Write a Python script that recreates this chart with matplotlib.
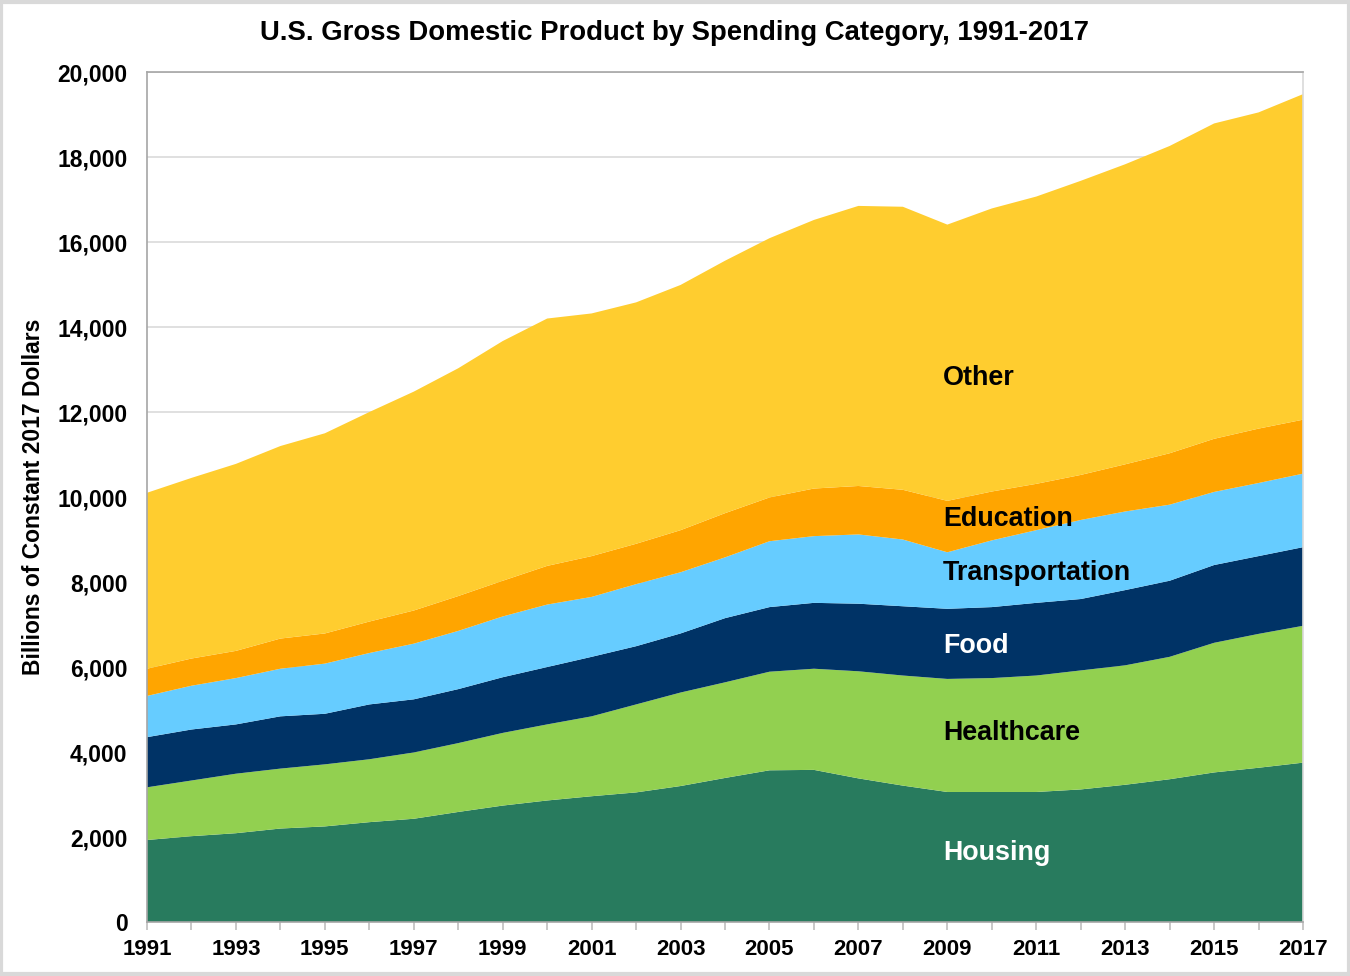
import matplotlib
matplotlib.use("Agg")
import matplotlib.pyplot as plt
import matplotlib.patches as patches
from matplotlib.ticker import FuncFormatter, MultipleLocator

plt.rcParams['font.family'] = ['Liberation Sans', 'DejaVu Sans']
plt.rcParams['font.weight'] = 'bold'

# Data (billions of constant 2017 dollars)
years = list(range(1991, 2018))
housing = [1930, 2020, 2090, 2200, 2250, 2350, 2430, 2590, 2740, 2860, 2960, 3050, 3200, 3390,
           3570, 3580, 3380, 3210, 3060, 3060, 3060, 3120, 3230, 3360, 3520, 3630, 3750]
healthcare = [1240, 1310, 1400, 1410, 1460, 1480, 1560, 1620, 1710, 1790, 1880, 2070, 2200, 2250,
              2320, 2380, 2520, 2590, 2660, 2680, 2740, 2800, 2810, 2880, 3050, 3150, 3220]
food = [1180, 1200, 1160, 1230, 1190, 1290, 1250, 1270, 1310, 1350, 1400, 1370, 1390, 1510,
        1520, 1550, 1590, 1630, 1650, 1670, 1710, 1680, 1770, 1790, 1830, 1830, 1850]
transportation = [970, 1030, 1090, 1120, 1180, 1210, 1310, 1370, 1430, 1470, 1410, 1460, 1440, 1430,
                  1550, 1570, 1630, 1570, 1330, 1570, 1710, 1860, 1850, 1790, 1720, 1720, 1730]
education = [640, 640, 640, 710, 710, 740, 780, 820, 840, 910, 960, 950, 990, 1040,
             1030, 1120, 1140, 1170, 1210, 1150, 1090, 1060, 1110, 1210, 1250, 1280, 1270]
other = [4140, 4250, 4400, 4530, 4710, 4930, 5150, 5360, 5640, 5820, 5710, 5680, 5770, 5940,
         6100, 6320, 6590, 6660, 6500, 6660, 6760, 6920, 7060, 7230, 7420, 7440, 7660]

categories = ['Housing', 'Healthcare', 'Food', 'Transportation', 'Education', 'Other']
colors = ['#287B5E', '#92D050', '#003366', '#66CCFF', '#FFA500', '#FFCD2F']
label_colors = ['white', 'black', 'white', 'black', 'black', 'black']
label_y = [1620, 4450, 6500, 8210, 9480, 12800]

fig = plt.figure(figsize=(13.5, 9.76), dpi=100)
ax = fig.add_axes([0.1089, 0.0553, 0.8563, 0.8709])

ax.stackplot(years, housing, healthcare, food, transportation, education, other,
             colors=colors, linewidth=0, zorder=2)

ax.set_xlim(1991, 2017)
ax.set_ylim(0, 20000)

ax.yaxis.set_major_locator(MultipleLocator(2000))
ax.yaxis.set_major_formatter(FuncFormatter(lambda v, p: f"{int(v):,}"))
ax.grid(axis='y', color='#DDDDDD', linewidth=1.3, zorder=1)
ax.set_axisbelow(True)

ax.set_xticks(years)
ax.set_xticklabels([str(y) if (y - 1991) % 2 == 0 else '' for y in years])

ax.tick_params(axis='x', direction='out', length=6, width=1.2, color='#BFBFBF',
               pad=6, labelsize=16)
ax.tick_params(axis='y', length=0, pad=14, labelsize=16.5)
for lab in ax.get_xticklabels() + ax.get_yticklabels():
    lab.set_fontweight('bold')

for s in ax.spines.values():
    s.set_color('#A6A6A6')
    s.set_linewidth(1.2)
ax.spines['right'].set_color('#D9D9D9')

ax.set_ylabel('Billions of Constant 2017 Dollars', fontsize=16.5, fontweight='bold', labelpad=9)
fig.text(0.5, 0.966, 'U.S. Gross Domestic Product by Spending Category, 1991-2017',
         ha='center', va='center', fontsize=19.8, fontweight='bold')

for name, c, yv in zip(categories, label_colors, label_y):
    ax.text(2008.9, yv, name, color=c, fontsize=19.4, fontweight='bold',
            ha='left', va='center', zorder=5)

# light border around the figure
fig.patches.append(patches.Rectangle((0.001, 0.002), 0.998, 0.996, transform=fig.transFigure,
                                     fill=False, edgecolor='#D9D9D9', linewidth=3))

fig.savefig('out.png', dpi=100)
